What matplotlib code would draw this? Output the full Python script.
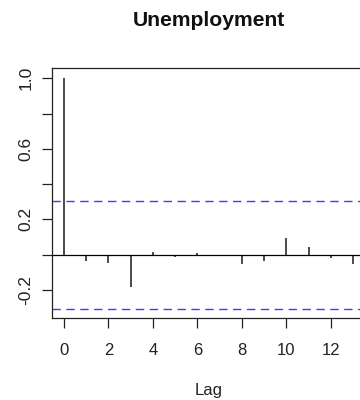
import numpy as np
import matplotlib
matplotlib.use("Agg")
import matplotlib.pyplot as plt

plt.rcParams['font.family'] = ['Liberation Sans', 'DejaVu Sans']

# autocorrelation of the unemployment series
lags = [0, 1, 2, 3, 4, 5, 6, 7, 8, 9, 10, 11, 12, 13]
acf_vals = [1.0, -0.035, -0.048, -0.183, 0.015, -0.012, 0.008, -0.008,
            -0.052, -0.036, 0.092, 0.042, -0.02, -0.053]
conf_band = 0.306
y_ticks = [-0.2, 0.0, 0.2, 0.4, 0.6, 0.8, 1.0]
y_labels = ['-0.2', '', '0.2', '', '0.6', '', '1.0']
x_ticks = [0, 2, 4, 6, 8, 10, 12]

W, H = 360, 400
fig = plt.figure(figsize=(W / 100, H / 100), dpi=100)

# plot region in pixels (right edge runs a bit past the image, as in the original)
left, right, top, bottom = 52.3, 364.7, 68.3, 318.0
ax = fig.add_axes([left / W, 1 - bottom / H, (right - left) / W, (bottom - top) / H])

ax.vlines(lags, 0, acf_vals, color='#1a1a1a', lw=1.1)
ax.axhline(0, color='black', lw=0.9)
for c in (conf_band, -conf_band):
    ax.axhline(c, color='#3344ee', lw=1.0, dashes=(6, 4))

ax.set_xlim(-0.52, 13.52)
ax.set_ylim(-0.359, 1.057)

ax.set_yticks(y_ticks)
ax.set_yticklabels(y_labels, rotation=90, va='center')
ax.set_xticks(x_ticks)
ax.tick_params(axis='both', direction='out', length=7.5, width=0.9,
               labelsize=12, color='#222222', labelcolor='#222222')
ax.tick_params(axis='y', pad=6, labelsize=12.5)
ax.tick_params(axis='x', pad=10.5)

for s in ax.spines.values():
    s.set_linewidth(0.9)
    s.set_color('#222222')

fig.text(209 / W, 1 - 26.5 / H, 'Unemployment', ha='center', va='baseline',
         fontsize=15.2, fontweight='bold', color='#111111')
fig.text(209 / W, 1 - 395 / H, 'Lag', ha='center', va='baseline',
         fontsize=12, color='#222222')

fig.savefig('out.png', dpi=100)
